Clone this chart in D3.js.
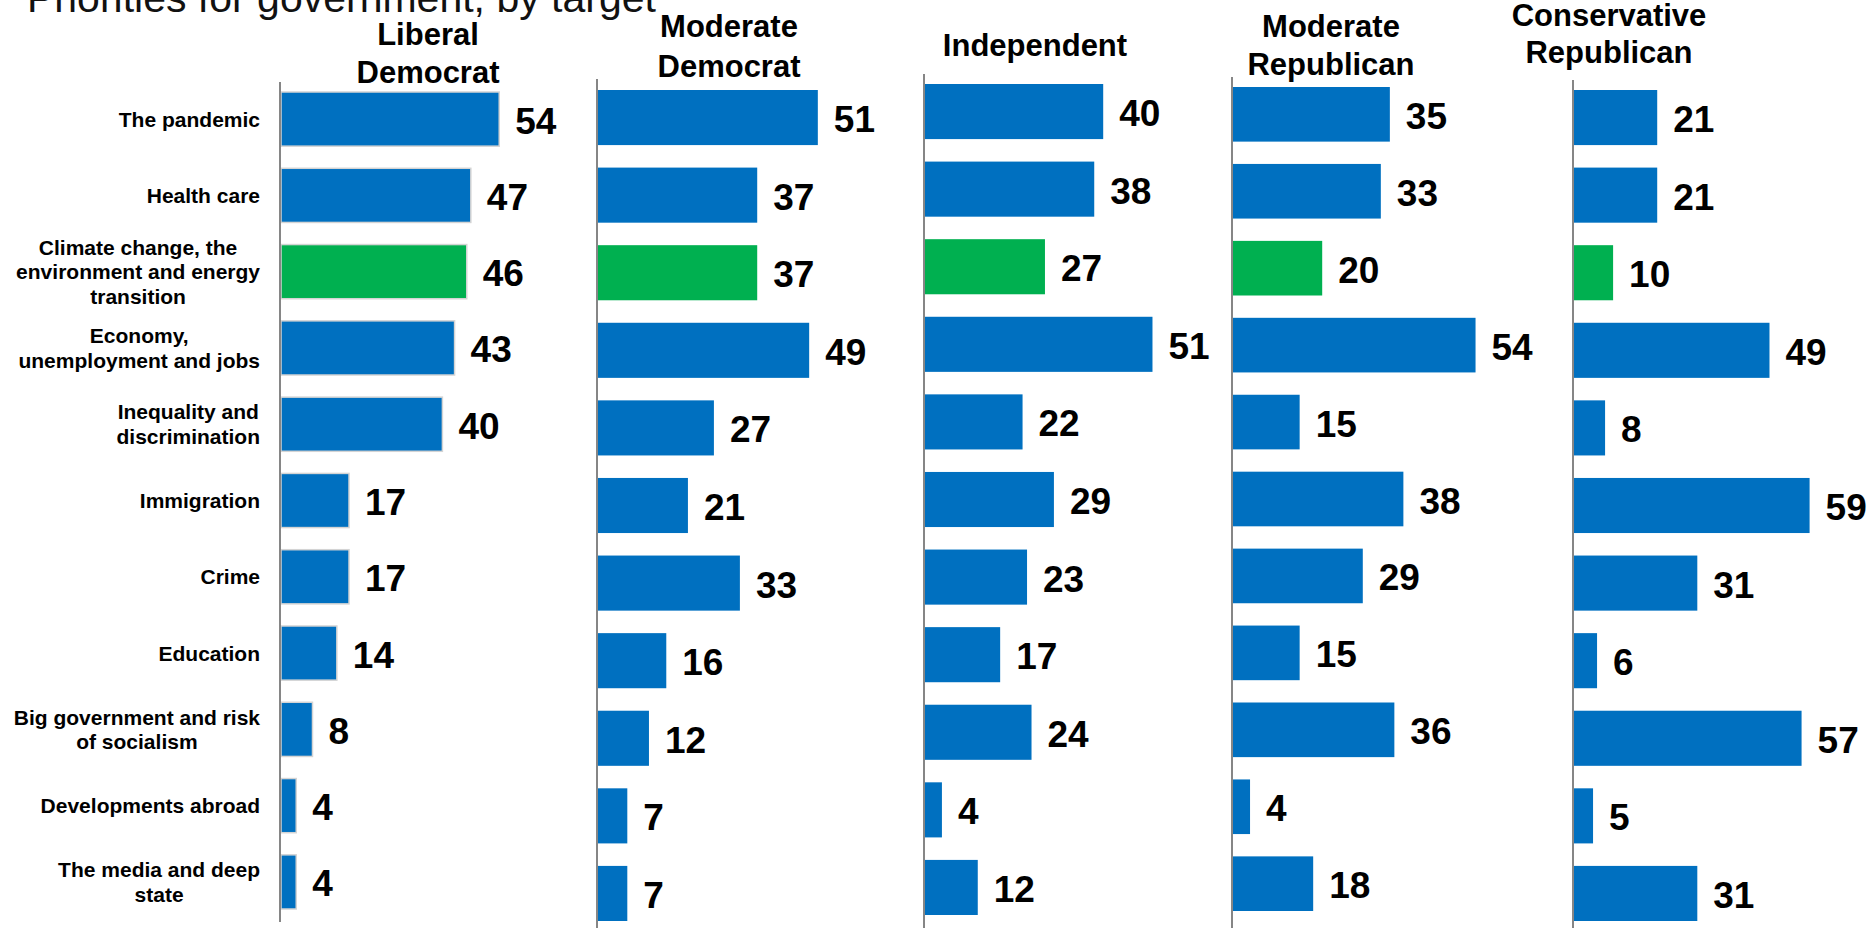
<!DOCTYPE html>
<html>
<head>
<meta charset="utf-8">
<script src="https://cdn.jsdelivr.net/npm/d3@7"></script>
<style>
  html, body { margin: 0; padding: 0; background: #fff; }
  svg { display: block; font-family: "Liberation Sans", Arial, Helvetica, sans-serif; }
</style>
</head>
<body>
<svg id="chart" width="1873" height="928"></svg>
<script>
// ---- Data ----
const title = "Priorities for government, by target";
const categories = [
  "The pandemic",
  "Health care",
  "Climate change, the\nenvironment and energy\ntransition",
  "Economy,\nunemployment and jobs",
  "Inequality and\ndiscrimination",
  "Immigration",
  "Crime",
  "Education",
  "Big government and risk\nof socialism",
  "Developments abroad",
  "The media and deep\nstate"
];
const highlightCategory = categories[2];
const groups = ["Liberal\nDemocrat", "Moderate\nDemocrat", "Independent", "Moderate\nRepublican", "Conservative\nRepublican"];
const liberalDemocrat       = [54, 47, 46, 43, 40, 17, 17, 14, 8, 4, 4];
const moderateDemocrat      = [51, 37, 37, 49, 27, 21, 33, 16, 12, 7, 7];
const independent           = [40, 38, 27, 51, 22, 29, 23, 17, 24, 4, 12];
const moderateRepublican    = [35, 33, 20, 54, 15, 38, 29, 15, 36, 4, 18];
const conservativeRepublican= [21, 21, 10, 49, 8, 59, 31, 6, 57, 5, 31];
const seriesValues = [liberalDemocrat, moderateDemocrat, independent, moderateRepublican, conservativeRepublican];

// ---- Layout (positions / styles) ----
const layout = [
  {axisX: 280,  ppu: 4.06, top: 92, bottom: 909, axisTop: 82, axisBottom: 922, headX: 428,  headY: [45, 83], barStroke: "#d4d4d4"},
  {axisX: 597,  ppu: 4.33, top: 90, bottom: 921, axisTop: 79, axisBottom: 928, headX: 729,  headY: [37, 77], barStroke: "none"},
  {axisX: 924,  ppu: 4.48, top: 84, bottom: 915, axisTop: 74, axisBottom: 928, headX: 1035, headY: [56],     barStroke: "none"},
  {axisX: 1232, ppu: 4.51, top: 87, bottom: 911, axisTop: 77, axisBottom: 928, headX: 1331, headY: [37, 75], barStroke: "none"},
  {axisX: 1573, ppu: 4.01, top: 90, bottom: 921, axisTop: 80, axisBottom: 928, headX: 1609, headY: [26, 63], barStroke: "none"}
];
const blue = "#0070C0", green = "#00B050", axisColor = "#868686";

const svg = d3.select("#chart");

// Title
svg.append("text")
  .attr("x", 27).attr("y", 12)
  .attr("font-size", 41)
  .attr("fill", "#111")
  .text(title);

// Panels
groups.forEach((g, gi) => {
  const L = layout[gi];
  const vals = seriesValues[gi];
  const y = d3.scaleBand().domain(categories).range([L.top, L.bottom]).paddingInner(0.29).paddingOuter(0);
  const x = d3.scaleLinear().domain([0, 60]).range([L.axisX, L.axisX + 60 * L.ppu]);
  const panel = svg.append("g");

  // header
  const ht = panel.append("text")
    .attr("text-anchor", "middle")
    .attr("font-size", 31)
    .attr("font-weight", "bold")
    .attr("fill", "#000");
  g.split("\n").forEach((line, li) => {
    ht.append("tspan").attr("x", L.headX).attr("y", L.headY[li]).text(line);
  });

  const data = categories.map((c, i) => ({c, v: vals[i]}));

  panel.selectAll("rect.bar").data(data).join("rect")
    .attr("class", "bar")
    .attr("x", x(0) + 1)
    .attr("y", d => y(d.c))
    .attr("width", d => x(d.v) - x(0) - 1)
    .attr("height", y.bandwidth())
    .attr("fill", d => d.c === highlightCategory ? green : blue)
    .attr("stroke", L.barStroke)
    .attr("stroke-width", 1.5);

  panel.selectAll("text.val").data(data).join("text")
    .attr("class", "val")
    .attr("x", d => x(d.v) + 16)
    .attr("y", d => y(d.c) + y.bandwidth() / 2 + 14.5)
    .attr("font-size", 37)
    .attr("font-weight", "bold")
    .attr("fill", "#000")
    .text(d => d.v);

  // axis line
  panel.append("line")
    .attr("x1", L.axisX).attr("x2", L.axisX)
    .attr("y1", L.axisTop).attr("y2", L.axisBottom)
    .attr("stroke", axisColor).attr("stroke-width", 2);

  // category labels on first panel
  if (gi === 0) {
    const labelRight = 260, lineH = 24.5;
    categories.forEach(c => {
      const lines = c.split("\n");
      const t = svg.append("text")
        .attr("font-size", 21)
        .attr("font-weight", "bold")
        .attr("fill", "#000")
        .attr("text-anchor", "middle");
      const cy = y(c) + y.bandwidth() / 2;
      const spans = lines.map((line, li) =>
        t.append("tspan")
          .attr("y", cy + (li - (lines.length - 1) / 2) * lineH + 7.5)
          .text(line));
      let maxW = 0;
      spans.forEach(s => { maxW = Math.max(maxW, s.node().getComputedTextLength()); });
      spans.forEach(s => s.attr("x", labelRight - maxW / 2));
    });
  }
});
</script>
</body>
</html>
